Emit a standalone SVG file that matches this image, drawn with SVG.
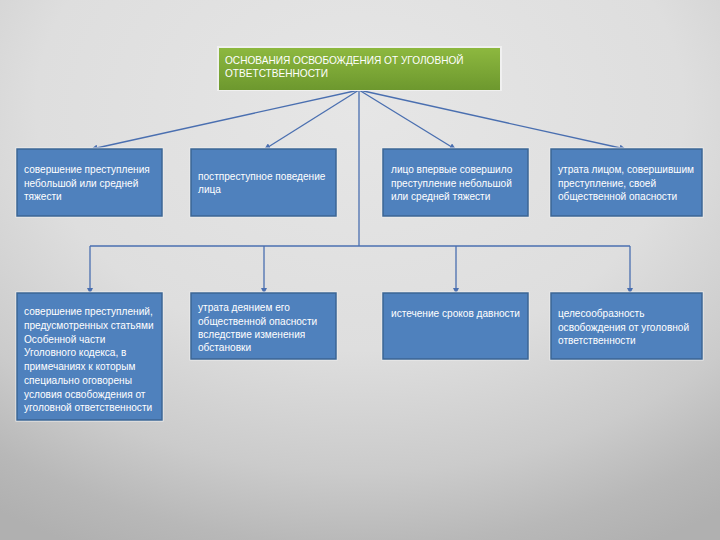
<svg xmlns="http://www.w3.org/2000/svg" width="720" height="540" viewBox="0 0 720 540">
<defs>
<radialGradient id="bg" cx="50%" cy="20%" r="90%">
<stop offset="0" stop-color="#e6e6e6"/>
<stop offset="0.5" stop-color="#dedede"/>
<stop offset="0.75" stop-color="#cbcbcb"/>
<stop offset="0.9" stop-color="#b8b8b8"/>
<stop offset="1" stop-color="#b0b0b0"/>
</radialGradient>
<linearGradient id="green" x1="0" y1="0" x2="0" y2="1">
<stop offset="0" stop-color="#8db83f"/>
<stop offset="1" stop-color="#6d982e"/>
</linearGradient>
<marker id="arr" viewBox="0 0 6 6" refX="5" refY="3" markerWidth="5" markerHeight="5" orient="auto">
<path d="M0,0 L6,3 L0,6 z" fill="#4a6fb0"/>
</marker>
<style>
.box{fill:#4f81bd;stroke:#3b6594;stroke-width:1.5}
.halo{fill:none;stroke:#eeeeee;stroke-width:3}
.t{font-family:"Liberation Sans",Arial,sans-serif;font-size:10.1px;fill:#ffffff}
.c{stroke:#4a6fb0;stroke-width:1.3;fill:none}
</style>
</defs>
<rect width="720" height="540" fill="url(#bg)"/>

<g id="connectors">
<line class="c" x1="359" y1="90" x2="92" y2="149" marker-end="url(#arr)"/>
<line class="c" x1="359" y1="90" x2="265" y2="149" marker-end="url(#arr)"/>
<line class="c" x1="359" y1="90" x2="455" y2="149" marker-end="url(#arr)"/>
<line class="c" x1="359" y1="90" x2="625" y2="149" marker-end="url(#arr)"/>
<line class="c" x1="359" y1="90" x2="359" y2="246"/>
<line class="c" x1="90" y1="246" x2="630" y2="246"/>
<line class="c" x1="90" y1="246" x2="90" y2="293" marker-end="url(#arr)"/>
<line class="c" x1="264" y1="246" x2="264" y2="293" marker-end="url(#arr)"/>
<line class="c" x1="456" y1="246" x2="456" y2="293" marker-end="url(#arr)"/>
<line class="c" x1="630" y1="246" x2="630" y2="293" marker-end="url(#arr)"/>
</g>

<g id="root">
<rect x="218" y="47" width="283" height="43" fill="none" stroke="#f0f0f0" stroke-width="2"/>
<rect x="219" y="48" width="281" height="42" fill="url(#green)"/>
<text class="t" x="225" y="64">ОСНОВАНИЯ ОСВОБОЖДЕНИЯ ОТ УГОЛОВНОЙ</text>
<text class="t" x="225" y="77">ОТВЕТСТВЕННОСТИ</text>
</g>

<g id="n1">
<rect class="halo" x="17" y="149" width="145" height="67"/>
<rect class="box" x="17" y="149" width="145" height="67"/>
<text class="t" x="24" y="173">совершение преступления</text>
<text class="t" x="24" y="187">небольшой или средней</text>
<text class="t" x="24" y="200">тяжести</text>
</g>

<g id="n2">
<rect class="halo" x="191" y="149" width="145" height="67"/>
<rect class="box" x="191" y="149" width="145" height="67"/>
<text class="t" x="198" y="180">постпреступное поведение</text>
<text class="t" x="198" y="193">лица</text>
</g>

<g id="n3">
<rect class="halo" x="383" y="149" width="145" height="67"/>
<rect class="box" x="383" y="149" width="145" height="67"/>
<text class="t" x="391" y="173">лицо впервые совершило</text>
<text class="t" x="391" y="187">преступление небольшой</text>
<text class="t" x="391" y="200">или средней тяжести</text>
</g>

<g id="n4">
<rect class="halo" x="551" y="149" width="151" height="67"/>
<rect class="box" x="551" y="149" width="151" height="67"/>
<text class="t" x="558" y="173">утрата лицом, совершившим</text>
<text class="t" x="558" y="187">преступление, своей</text>
<text class="t" x="558" y="200">общественной опасности</text>
</g>

<g id="n5">
<rect class="halo" x="17" y="293" width="145" height="127"/>
<rect class="box" x="17" y="293" width="145" height="127"/>
<text class="t" x="24" y="315">совершение преступлений,</text>
<text class="t" x="24" y="329">предусмотренных статьями</text>
<text class="t" x="24" y="343">Особенной части</text>
<text class="t" x="24" y="356">Уголовного кодекса, в</text>
<text class="t" x="24" y="370">примечаниях к которым</text>
<text class="t" x="24" y="384">специально оговорены</text>
<text class="t" x="24" y="398">условия освобождения от</text>
<text class="t" x="24" y="411">уголовной ответственности</text>
</g>

<g id="n6">
<rect class="halo" x="191" y="293" width="145" height="66"/>
<rect class="box" x="191" y="293" width="145" height="66"/>
<text class="t" x="198" y="311">утрата деянием его</text>
<text class="t" x="198" y="325">общественной опасности</text>
<text class="t" x="198" y="338">вследствие изменения</text>
<text class="t" x="198" y="351">обстановки</text>
</g>

<g id="n7">
<rect class="halo" x="383" y="293" width="145" height="66"/>
<rect class="box" x="383" y="293" width="145" height="66"/>
<text class="t" x="391" y="317">истечение сроков давности</text>
</g>

<g id="n8">
<rect class="halo" x="551" y="293" width="151" height="66"/>
<rect class="box" x="551" y="293" width="151" height="66"/>
<text class="t" x="558" y="317">целесообразность</text>
<text class="t" x="558" y="331">освобождения от уголовной</text>
<text class="t" x="558" y="344">ответственности</text>
</g>
</svg>
